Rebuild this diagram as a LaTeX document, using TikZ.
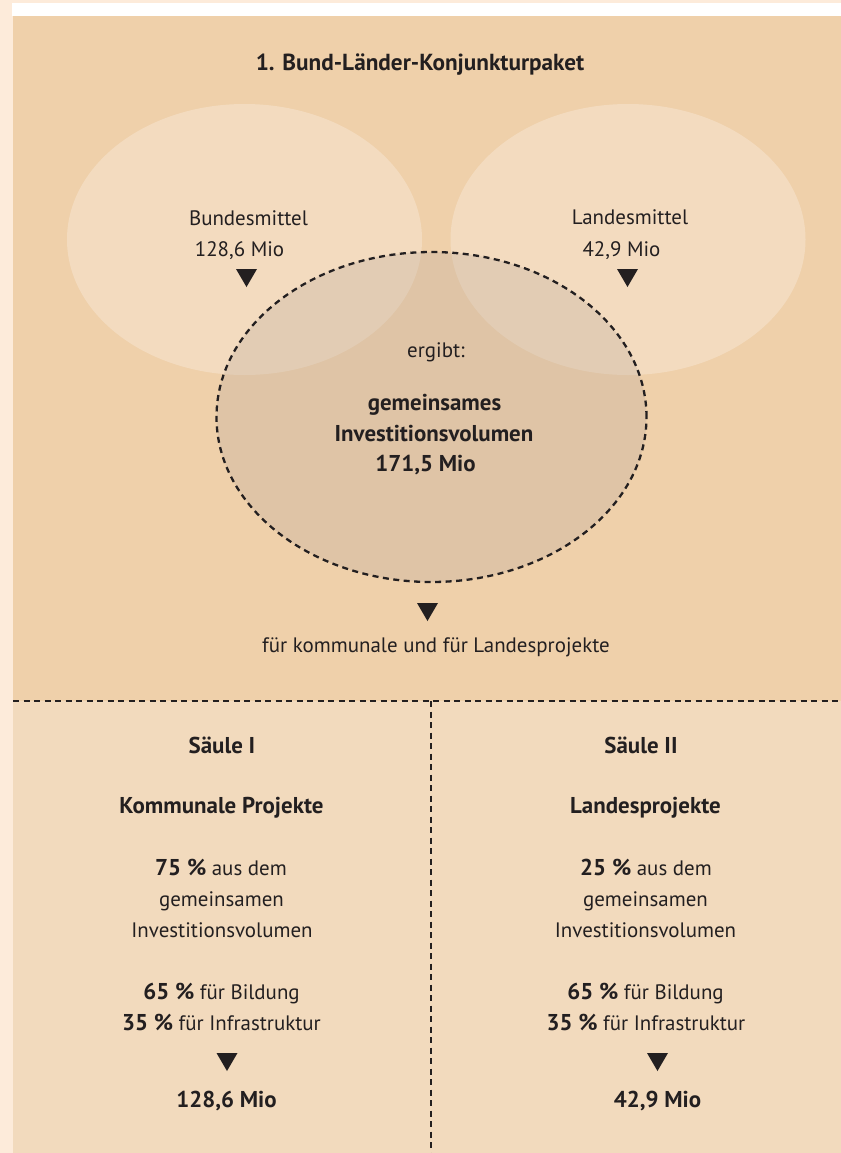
\documentclass[tikz,border=0pt]{standalone}
\usepackage{fontspec}
\setmainfont{PT Sans}
\usetikzlibrary{shapes.geometric}
\definecolor{strip}{HTML}{FDEBDA}
\definecolor{toppanel}{HTML}{EFD0AA}
\definecolor{botpanel}{HTML}{F2DABD}
\definecolor{ink}{HTML}{231F20}
\definecolor{midfill}{RGB}{189,171,157}
\newcommand{\bnum}[1]{{\fontsize{23}{30}\selectfont\bfseries #1}}
\begin{document}
\begin{tikzpicture}[x=1bp,y=-1bp,
  txt/.style={text=ink, font=\fontsize{21}{30}\selectfont, inner sep=0pt, anchor=base},
  btxt/.style={text=ink, font=\fontsize{23}{30}\selectfont\bfseries, inner sep=0pt, anchor=base},
  ttl/.style={text=ink, font=\fontsize{23.3}{30}\selectfont\bfseries, inner sep=0pt, anchor=base},
  divline/.style={draw=ink, line width=2.3bp, dash pattern=on 6bp off 4.5bp},
  lightell/.style={ellipse, fill=white, fill opacity=0.25, minimum width=355bp, minimum height=271bp, inner sep=0pt},
  midell/.style={ellipse, fill=midfill, fill opacity=0.3, draw=ink, line width=2.3bp, dash pattern=on 6bp off 4.5bp, minimum width=430bp, minimum height=330bp, inner sep=0pt},
  downtri/.pic={\fill[ink] (-10.5,-9) -- (10.5,-9) -- (0,9) -- cycle;}
]
\useasboundingbox (0,0) rectangle (841,1153);
% background panels
\fill[strip] (0,0) rectangle (841,1153);
\fill[white] (12,3) rectangle (841,16);
\fill[toppanel] (13,16) rectangle (841,701);
\fill[botpanel] (13,701) rectangle (841,1153);

% ellipses
\node[lightell] (bund) at (244.5,239.5) {};
\node[lightell] (land) at (628,239.5) {};
\node[midell] (gemein) at (431.5,417) {};

% title
\node[ttl] (title) at (420,70) {1. Bund-Länder-Konjunkturpaket};

% ellipse texts
\node[txt] (bundA) at (248.5,225) {Bundesmittel};
\node[txt] (bundB) at (239.5,256) {128,6 Mio};
\pic at (246.5,278) {downtri};
\node[txt] (landA) at (630,224) {Landesmittel};
\node[txt] (landB) at (621.5,256) {42,9 Mio};
\pic at (627.5,278) {downtri};

\node[txt] (ergibt) at (436,357) {ergibt:};
\node[btxt] (gemA) at (434.5,410.5) {gemeinsames};
\node[btxt] (gemB) at (434,441) {Investitionsvolumen};
\node[btxt] (gemC) at (425.5,471.5) {171,5 Mio};
\pic at (427.5,612) {downtri};
\node[txt] (fuer) at (436,652) {für kommunale und für Landesprojekte};

% dividers
\coordinate (hl) at (13,701);
\coordinate (hr) at (841,701);
\coordinate (vt) at (431,701);
\coordinate (vb) at (431,1153);
\draw[divline] (hl) -- (hr);
\draw[divline] (vt) -- (vb);

% Saeule I
\node[btxt] (sa) at (222,753) {Säule I};
\node[btxt] (saA) at (221.5,813) {Kommunale Projekte};
\node[txt] (saB) at (221,875) {\bnum{75 \%} aus dem};
\node[txt] (saC) at (221.5,906) {gemeinsamen};
\node[txt] (saD) at (222,937) {Investitionsvolumen};
\node[txt] (saE) at (221.5,999) {\bnum{65 \%} für Bildung};
\node[txt] (saF) at (221.5,1030) {\bnum{35 \%} für Infrastruktur};
\pic at (227,1062) {downtri};
\node[btxt] (saG) at (226.5,1107) {128,6 Mio};

% Saeule II
\node[btxt] (sb) at (641,753) {Säule II};
\node[btxt] (sbA) at (645.5,813) {Landesprojekte};
\node[txt] (sbB) at (646,875) {\bnum{25 \%} aus dem};
\node[txt] (sbC) at (645.5,906) {gemeinsamen};
\node[txt] (sbD) at (645.5,937) {Investitionsvolumen};
\node[txt] (sbE) at (645.5,999) {\bnum{65 \%} für Bildung};
\node[txt] (sbF) at (646,1030) {\bnum{35 \%} für Infrastruktur};
\pic at (657.5,1062) {downtri};
\node[btxt] (sbG) at (657.5,1107) {42,9 Mio};
\end{tikzpicture}
\end{document}
